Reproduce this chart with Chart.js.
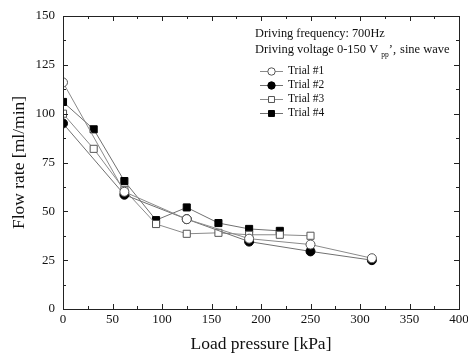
<!DOCTYPE html>
<html><head><meta charset="utf-8">
<script src="https://cdn.jsdelivr.net/npm/chart.js@4.4.1/dist/chart.umd.min.js"></script>
<style>html,body{margin:0;padding:0;background:#fff}#wrap{width:468px;height:355px}</style>
</head><body><div id="wrap"><canvas id="c" width="468" height="355"></canvas></div>
<script>
const trialLabels = ['Trial #1', 'Trial #2', 'Trial #3', 'Trial #4'];
const pressure1 = [0, 62, 125, 188, 250, 312];
const flow1 = [116, 60, 46, 36, 33, 26];
const pressure2 = [0, 62, 125, 188, 250, 312];
const flow2 = [95, 58.5, 46, 34.5, 29.5, 25];
const pressure3 = [0, 31, 62, 94, 125, 157, 188, 219, 250];
const flow3 = [100, 82, 61, 43.5, 38.5, 39, 38, 38, 37.5];
const pressure4 = [0, 31, 62, 94, 125, 157, 188, 219];
const flow4 = [106, 92, 65.5, 45.5, 52, 44, 41, 40];
const xTicks = [0, 50, 100, 150, 200, 250, 300, 350, 400];
const yTicks = [0, 25, 50, 75, 100, 125, 150];
const noteLines = ['Driving frequency: 700Hz', 'Driving voltage 0-150 V', 'pp', '\u2019,', 'sine wave'];
const xTitle = 'Load pressure [kPa]';
const yTitle = 'Flow rate [ml/min]';

const SERIF = '"Liberation Serif", "Times New Roman", serif';
const pts = (xs, ys) => xs.map((x, i) => ({x, y: ys[i]}));
const styles = [
  {pointStyle: 'circle', radius: 4.5, fill: '#fff', edge: '#555', line: '#8a8a8a'},
  {pointStyle: 'circle', radius: 4.5, fill: '#000', edge: '#000', line: '#707070'},
  {pointStyle: 'rect', radius: 5, fill: '#fff', edge: '#555', line: '#8a8a8a'},
  {pointStyle: 'rect', radius: 5, fill: '#000', edge: '#000', line: '#707070'}
];
const series = [pts(pressure1, flow1), pts(pressure2, flow2), pts(pressure3, flow3), pts(pressure4, flow4)];
const datasets = series.map((d, i) => ({
  label: trialLabels[i], data: d,
  borderColor: styles[i].line, borderWidth: 1,
  pointStyle: styles[i].pointStyle, pointRadius: styles[i].radius,
  pointBackgroundColor: styles[i].fill, pointBorderColor: styles[i].edge, pointBorderWidth: 1,
  tension: 0, fill: false
}));

const frame = {
  id: 'frame',
  afterDatasetsDraw(chart) {
    const {ctx, chartArea: a, scales: {x, y}} = chart;
    ctx.save();
    ctx.strokeStyle = '#222'; ctx.lineWidth = 1;
    ctx.strokeRect(Math.round(a.left) + 0.5, Math.round(a.top) + 0.5, Math.round(a.right - a.left), Math.round(a.bottom - a.top));
    ctx.beginPath();
    for (let v = 0; v <= 400; v += 25) {
      const px = Math.round(x.getPixelForValue(v)) + 0.5;
      const len = v % 50 === 0 ? 5 : 3;
      ctx.moveTo(px, a.bottom); ctx.lineTo(px, a.bottom - len);
      ctx.moveTo(px, a.top); ctx.lineTo(px, a.top + len);
    }
    for (let v = 0; v <= 150; v += 12.5) {
      const py = Math.round(y.getPixelForValue(v)) + 0.5;
      const len = v % 25 === 0 ? 5 : 3;
      ctx.moveTo(a.left, py); ctx.lineTo(a.left + len, py);
      ctx.moveTo(a.right, py); ctx.lineTo(a.right - len, py);
    }
    ctx.stroke();

    // notes + legend
    ctx.fillStyle = '#111';
    ctx.textBaseline = 'middle';
    const lx = 255;
    ctx.font = '12.3px ' + SERIF;
    ctx.fillText(noteLines[0], lx, 34);
    ctx.font = '12.5px ' + SERIF;
    ctx.fillText(noteLines[1], lx, 50);
    let cx = lx + ctx.measureText(noteLines[1]).width + 3;
    ctx.font = '7.5px ' + SERIF;
    ctx.fillText(noteLines[2], cx, 55);
    cx += ctx.measureText(noteLines[2]).width;
    ctx.font = '12.5px ' + SERIF;
    ctx.fillText(noteLines[3], cx, 50);
    cx += ctx.measureText(noteLines[3]).width + 4;
    ctx.fillText(noteLines[4], cx, 50);

    const rows = [71, 85, 99, 113];
    chart.data.datasets.forEach((ds, i) => {
      const yy = rows[i];
      ctx.strokeStyle = ds.borderColor; ctx.lineWidth = 1;
      ctx.beginPath(); ctx.moveTo(260, yy + 0.5); ctx.lineTo(283, yy + 0.5); ctx.stroke();
      ctx.fillStyle = ds.pointBackgroundColor; ctx.strokeStyle = ds.pointBorderColor;
      Chart.helpers.drawPoint(ctx, {pointStyle: ds.pointStyle, radius: ds.pointRadius - 0.8, borderWidth: 1}, 271.5, yy + 0.5);
      ctx.fillStyle = '#111';
      ctx.font = '11.5px ' + SERIF;
      ctx.fillText(ds.label, 288, yy);
    });
    ctx.restore();
  }
};

new Chart(document.getElementById('c'), {
  type: 'line',
  data: {datasets},
  options: {
    responsive: false, animation: false, devicePixelRatio: 1,
    layout: {padding: {top: 16, right: 9, left: 0, bottom: 0}},
    plugins: {legend: {display: false}, tooltip: {enabled: false}},
    scales: {
      x: {
        type: 'linear', min: 0, max: 400,
        afterBuildTicks: s => { s.ticks = xTicks.map(v => ({value: v})); },
        afterFit: s => { s.height = 46; s.paddingLeft = 0; s.paddingRight = 0; },
        grid: {display: false, drawTicks: false},
        border: {display: false},
        ticks: {color: '#111', font: {family: SERIF, size: 13}, padding: 3, maxRotation: 0},
        title: {display: true, text: xTitle, color: '#111', font: {family: SERIF, size: 17.5}, padding: {top: 1, bottom: 0}}
      },
      y: {
        type: 'linear', min: 0, max: 150,
        afterBuildTicks: s => { s.ticks = yTicks.map(v => ({value: v})); },
        afterFit: s => { s.width = 63; s.paddingTop = 0; s.paddingBottom = 0; },
        grid: {display: false, drawTicks: false},
        border: {display: false},
        ticks: {color: '#111', font: {family: SERIF, size: 13}, padding: 8},
        title: {display: true, text: yTitle, color: '#111', font: {family: SERIF, size: 17.5}, padding: {top: 9, bottom: 2}}
      }
    }
  },
  plugins: [frame]
});
</script></body></html>
